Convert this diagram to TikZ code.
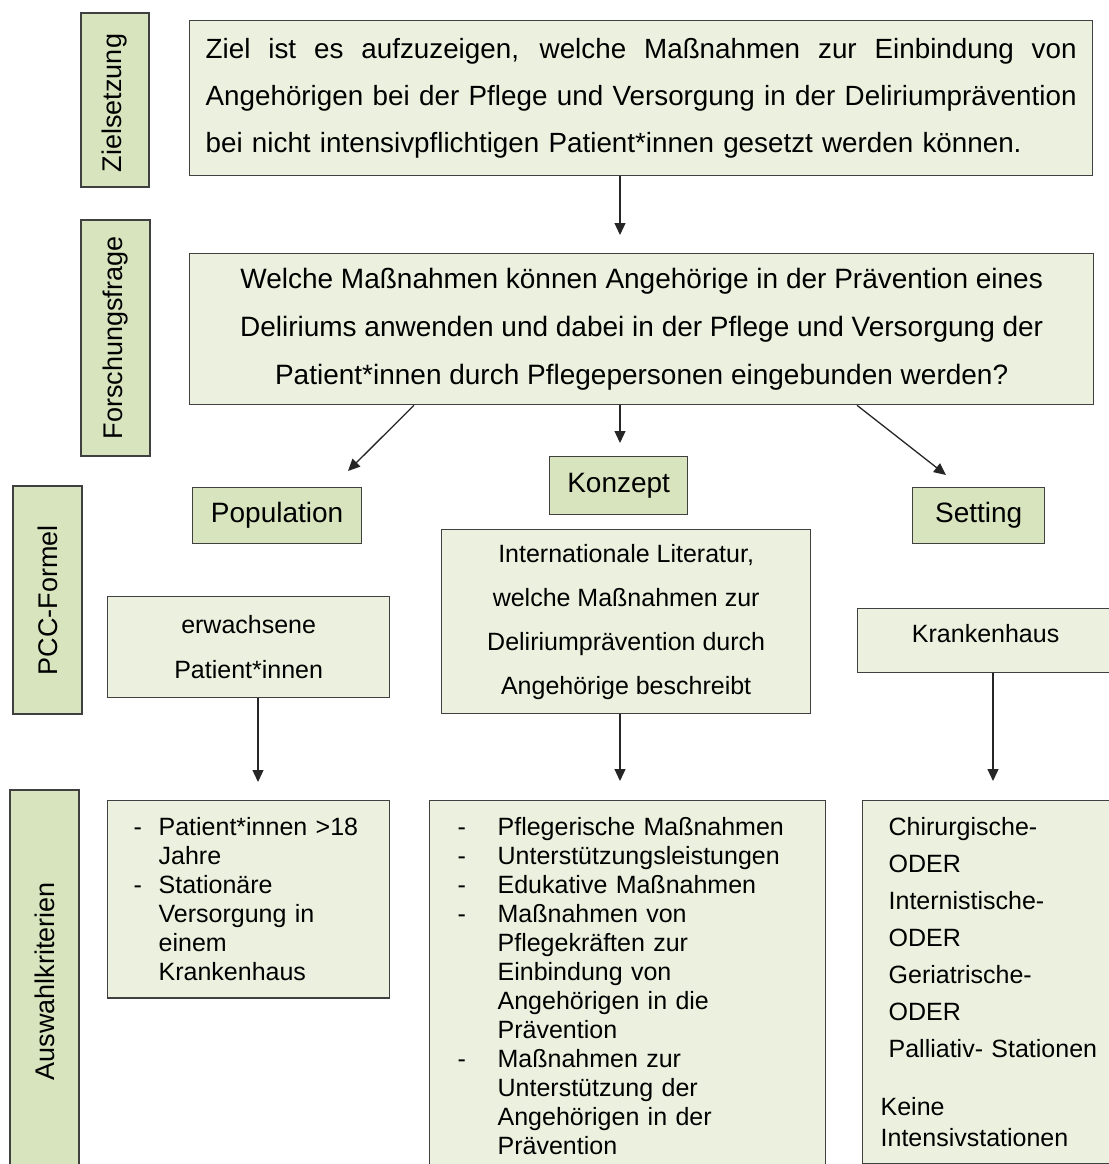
\documentclass[tikz,border=0pt]{standalone}
\usepackage{fontspec}
\setmainfont{Liberation Sans}
\usetikzlibrary{arrows.meta}
\definecolor{darkbox}{HTML}{D7E4BD}
\definecolor{lightbox}{HTML}{EBF1DE}
\definecolor{rim}{HTML}{404040}
\newcommand{\dashitem}[1]{\makebox[#1][l]{-}}
\newcommand{\fullline}[1]{\leavevmode\hbox to 871pt{\spaceskip=0.25em plus 1fil\relax #1}}

\begin{document}
\begin{tikzpicture}[x=1pt, y=-1pt,
  box/.style={draw=rim, line width=1.3pt, anchor=north west, inner sep=0pt},
  head/.style={box, fill=darkbox, font=\fontsize{28}{32}\selectfont},
  side/.style={draw=rim, line width=1.3pt, fill=darkbox, rotate=90, inner sep=0pt, font=\fontsize{27}{32}\selectfont},
  body/.style={box, fill=lightbox},
  arr/.style={-{Triangle[length=12pt,width=11pt]}, line width=1.3pt, draw=black!85}]
\useasboundingbox (0,0) rectangle (1108,1164);

% left column
\node (Z0) at (115,100) [side, minimum width=174, minimum height=68] {Zielsetzung\hspace*{6pt}};
\node (F0) at (115.5,338) [side, minimum width=236, minimum height=69] {Forschungsfrage};
\node (C0) at (47.5,600) [side, minimum width=228, minimum height=69] {PCC-Formel};
\node (A0) at (44.5,981) [side, minimum width=382, minimum height=69] {Auswahlkriterien};

% aim and question
\node (Z1) at (189,20) [body, minimum width=903, minimum height=155, text width=871, align=left,
  font=\fontsize{27.8}{47}\selectfont] {\fullline{Ziel ist es aufzuzeigen, welche Maßnahmen zur Einbindung von}\\\fullline{Angehörigen bei der Pflege und Versorgung in der Deliriumprävention}\\bei nicht intensivpflichtigen Patient*innen gesetzt werden können.};
\node (F1) at (189,253) [body, minimum width=904, minimum height=151, align=center,
  font=\fontsize{28}{48}\selectfont] {Welche Maßnahmen können Angehörige in der Prävention eines\\Deliriums anwenden und dabei in der Pflege und Versorgung der\\Patient*innen durch Pflegepersonen eingebunden werden?};

% PCC heads
\node (P1) at (192,487) [head, minimum width=169, minimum height=56] {Population};
\node (K1) at (549,456) [head, minimum width=138, minimum height=58] {Konzept};
\node (S1) at (912,487) [head, minimum width=132, minimum height=56] {Setting};

% PCC contents
\node (P2) at (107,596) [body, minimum width=282, minimum height=101, align=center,
  font=\fontsize{25}{45}\selectfont] {erwachsene\\Patient*innen};
\node (K2) at (441,529) [body, minimum width=369, minimum height=184, align=center,
  font=\fontsize{25}{44}\selectfont] {Internationale Literatur,\\welche Maßnahmen zur\\Deliriumprävention durch\\Angehörige beschreibt};
\node (S2) at (857,608) [body, minimum width=264, text height=34pt, text depth=30pt,
  font=\fontsize{25}{30}\selectfont] {Krankenhaus\hspace*{8pt}};

% criteria
\node (P3) at (107,800) [body, minimum width=282, text width=230, inner xsep=26pt, inner ysep=17pt, align=left,
  font=\fontsize{25}{29}\selectfont] {\dashitem{25pt}Patient*innen >18\\\hspace*{25pt}Jahre\\\dashitem{25pt}Stationäre\\\hspace*{25pt}Versorgung in\\\hspace*{25pt}einem\\\hspace*{25pt}Krankenhaus};
\node (K3) at (429,800) [body, minimum width=396, text width=340, inner xsep=28pt, inner ysep=17pt, align=left,
  font=\fontsize{25}{29}\selectfont] {\dashitem{40pt}Pflegerische Maßnahmen\\\dashitem{40pt}Unterstützungsleistungen\\\dashitem{40pt}Edukative Maßnahmen\\\dashitem{40pt}Maßnahmen von\\\hspace*{40pt}Pflegekräften zur\\\hspace*{40pt}Einbindung von\\\hspace*{40pt}Angehörigen in die\\\hspace*{40pt}Prävention\\\dashitem{40pt}Maßnahmen zur\\\hspace*{40pt}Unterstützung der\\\hspace*{40pt}Angehörigen in der\\\hspace*{40pt}Prävention\\[20pt]};
\node (S3) at (862,800) [body, minimum width=270, text width=234, inner xsep=18pt, inner ysep=17pt, align=left,
  font=\fontsize{25}{37}\selectfont] {\hspace*{8pt}Chirurgische-\\\hspace*{8pt}ODER\\\hspace*{8pt}Internistische-\\\hspace*{8pt}ODER\\\hspace*{8pt}Geriatrische-\\\hspace*{8pt}ODER\\\hspace*{8pt}Palliativ- Stationen\\[21pt]Keine\\[-6pt]Intensivstationen\\[20pt]};

% arrow tips
\coordinate (T0) at (620,235);
\coordinate (T1) at (348,471);
\coordinate (T2) at (620,443);
\coordinate (T3) at (946,475);
\coordinate (T4) at (258,782);
\coordinate (T5) at (620,781);
\coordinate (T6) at (993,781);

\draw [arr] (Z1.south -| T0) -- (T0);
\draw [arr] (F1.south west) ++(225,0) -- (T1);
\draw [arr] (F1.south -| T2) -- (T2);
\draw [arr] (F1.south west) ++(668,0) -- (T3);
\draw [arr] (P2.south -| T4) -- (T4);
\draw [arr] (K2.south -| T5) -- (T5);
\draw [arr] (S2.south -| T6) -- (T6);
\end{tikzpicture}
\end{document}
